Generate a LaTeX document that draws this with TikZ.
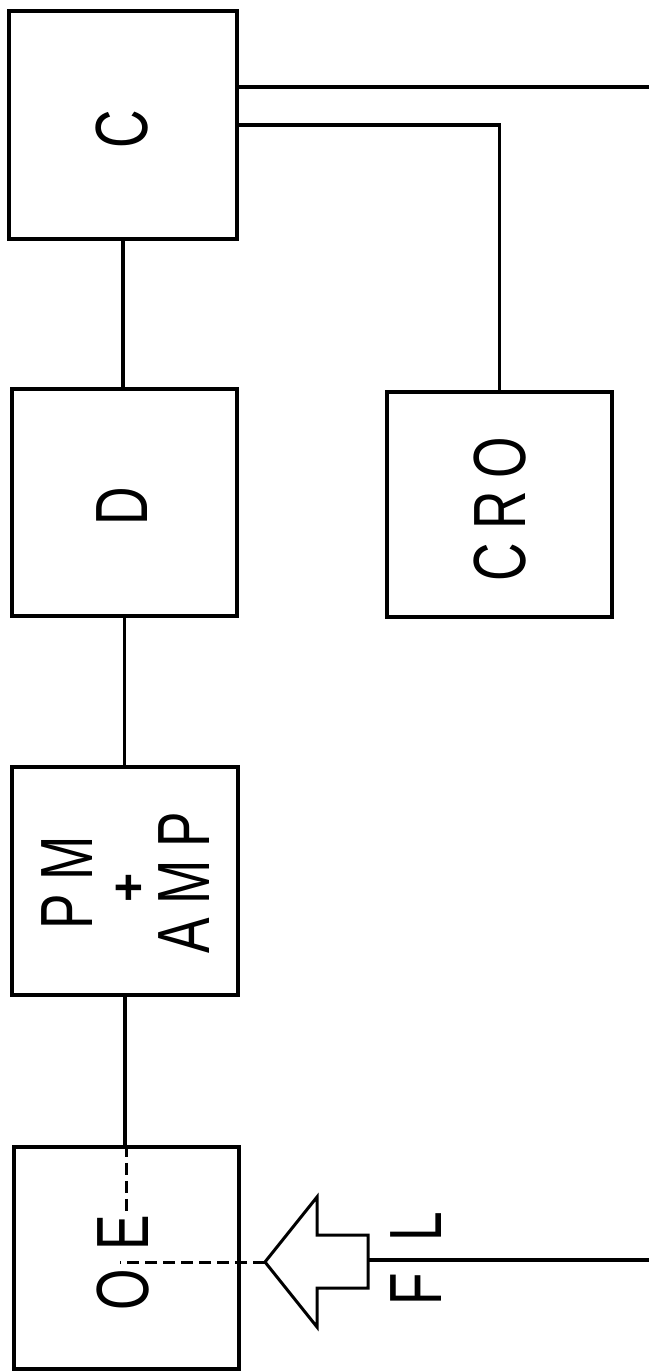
\documentclass[tikz,border=0pt]{standalone}
\usepackage{fontspec}
\setmainfont{Liberation Sans}
\newfontfamily\lbl[FakeStretch=0.72,LetterSpace=18]{Liberation Sans}
\begin{document}
\begin{tikzpicture}[x=1pt,y=-1pt,
  blk/.style={draw=black,line width=4.2pt,minimum width=#1,inner sep=0pt,rectangle},
  tag/.style={rotate=90,inner sep=0pt,font=\lbl\fontsize{74}{74}\selectfont},
  wire/.style={line width=3.2pt},
  hint/.style={line width=3pt,dash pattern=on 12pt off 6pt}]
\useasboundingbox[fill=white] (0,0) rectangle (649,1371);

% blocks of the chain
\node[blk=228pt,minimum height=228pt] (c)   at (123,125)   {};
\node[blk=225pt,minimum height=227pt] (d)   at (124.5,502.5) {};
\node[blk=225pt,minimum height=225pt] (cro) at (499.5,504.5) {};
\node[blk=226pt,minimum height=228pt] (pm)  at (125,881)   {};
\node[blk=225pt,minimum height=222pt] (oe)  at (126.5,1258) {};

% labels
\node[tag] (tc)   at (122,129)  {C};
\node[tag] (td)   at (122,506)  {D};
\node[tag] (tcro) at (500,509)  {CRO};
\node[tag] (tpm)  at (67,882.5) {PM};
\node[rotate=90,inner sep=0pt,font=\fontsize{50}{50}\bfseries\selectfont] (tplus) at (131,888) {+};
\node[tag] (tamp) at (184,882.5) {AMP};
\node[tag] (toe)  at (123,1262.5) {O\kern18pt E};
\node[tag] (tfl)  at (416,1258.5) {F\kern32pt L};

% connections
\draw[wire] (c.south) -- (c.south |- d.north);
\draw[wire] (d.south) -- (d.south |- pm.north);
\draw[wire] (pm.south) -- (pm.south |- oe.north);
\coordinate (out) at (649,87);
\draw[wire] (c.east |- out) -- (out);
\draw[wire] (c.east) -- (cro.north |- c.east) -- (cro.north);

% light input arrow and fibre
\coordinate (tip) at (265,1262);
\coordinate (tail) at (368,1260);
\coordinate (fibre) at (649,1260);
\draw[line width=3pt,line join=miter] (tip) -- (317,1197) -- (317,1235) -- (368,1235)
  -- (368,1288) -- (317,1288) -- (317,1327) -- cycle;
\draw[wire] (tail) -- (fibre);

% optical paths inside the element
\coordinate (oec) at (120,1262);
\coordinate (oetop) at (126,1216);
\draw[hint] (tip) -- (oec);
\draw[hint] (oe.north -| oetop) -- (oetop);
\end{tikzpicture}
\end{document}
